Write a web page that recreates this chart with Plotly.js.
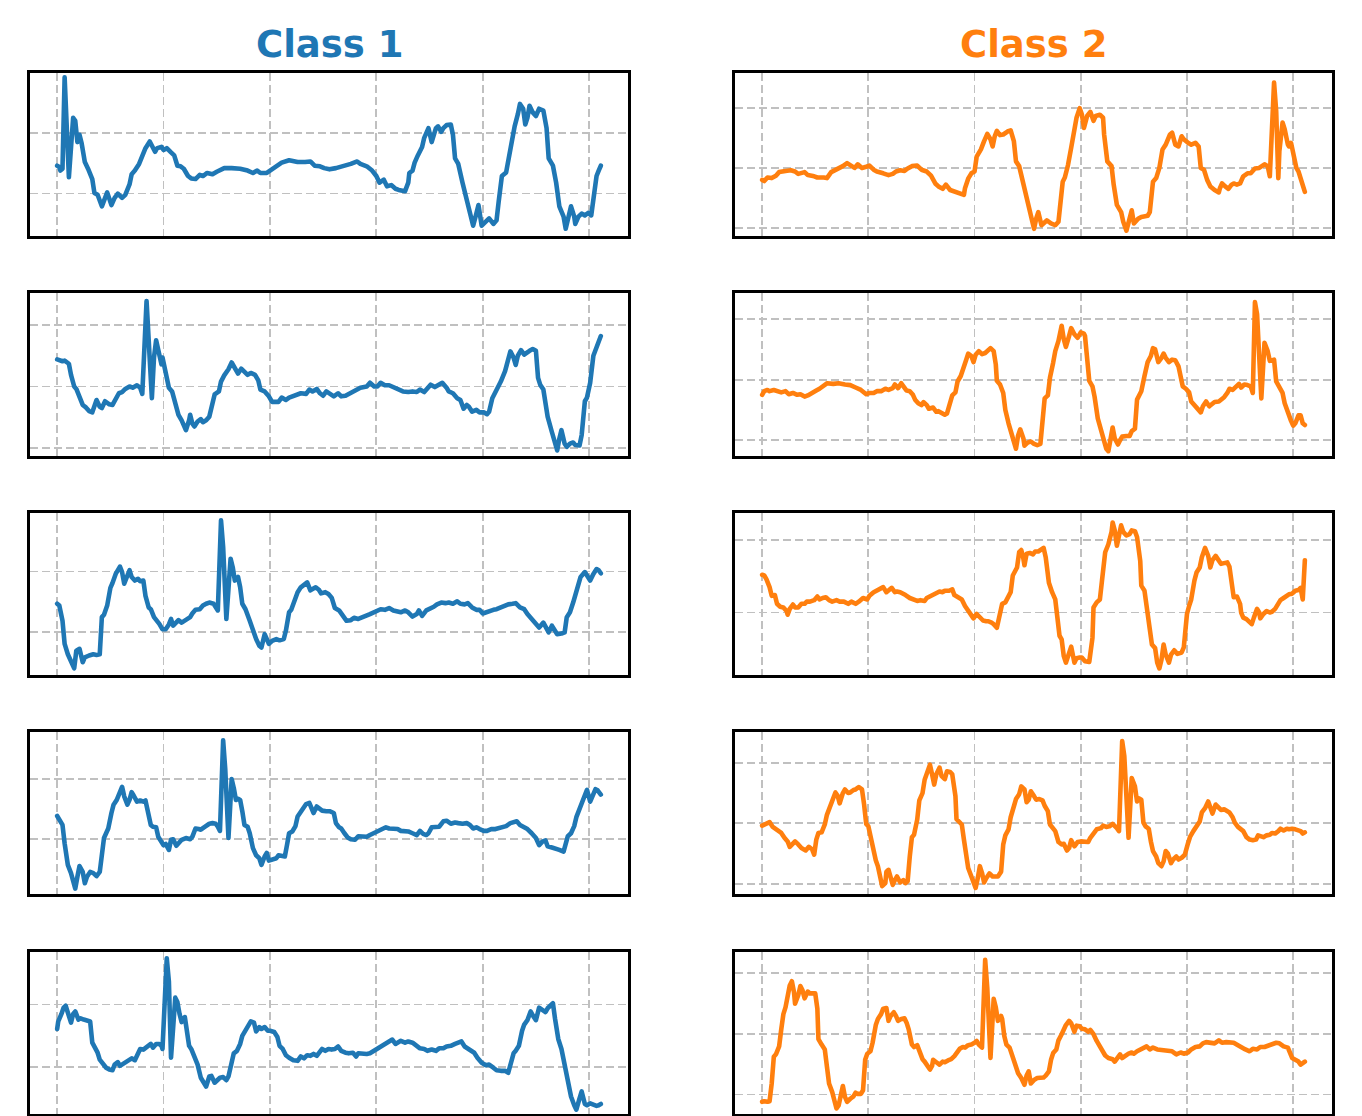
<!DOCTYPE html>
<html>
<head>
<meta charset="utf-8">
<script src="https://cdn.plot.ly/plotly-3.0.1.min.js"></script>
<style>
  html, body { margin: 0; padding: 0; background: #ffffff; }
  #chart { width: 1362px; height: 1116px; }
  .js-line { stroke-linejoin: round; stroke-linecap: round; }
</style>
</head>
<body>
<div id="chart"></div>
<script>
// Five example sequences per class, as [sample index, value] pairs.
const class1_seq1 = [[0,0.46],[2,0.44],[3,0.38],[5,0.41],[7,1.92],[11,0.27],[15,1.25],[17,1.20],[19,0.85],[21,0.97],[23,0.83],[26,0.52],[29,0.41],[33,0.24],[35,0.01],[38,-0.02],[42,-0.21],[44,-0.13],[47,0.02],[51,-0.19],[54,-0.07],[57,0.00],[61,-0.07],[64,-0.02],[68,0.15],[70,0.32],[73,0.38],[77,0.49],[80,0.63],[83,0.75],[87,0.86],[89,0.80],[92,0.69],[94,0.75],[98,0.77],[100,0.72],[103,0.75],[107,0.68],[110,0.63],[113,0.46],[116,0.45],[119,0.41],[123,0.29],[126,0.25],[130,0.24],[134,0.31],[137,0.29],[141,0.34],[146,0.32],[150,0.36],[157,0.42],[164,0.42],[172,0.41],[179,0.38],[184,0.34],[188,0.38],[191,0.34],[197,0.34],[200,0.38],[206,0.44],[211,0.51],[218,0.55],[226,0.52],[233,0.52],[238,0.53],[242,0.46],[247,0.45],[251,0.42],[256,0.40],[262,0.42],[269,0.45],[276,0.49],[282,0.53],[285,0.49],[291,0.45],[296,0.38],[300,0.29],[303,0.18],[307,0.23],[310,0.12],[314,0.14],[318,0.08],[321,0.06],[327,0.04],[330,0.18],[331,0.34],[334,0.38],[336,0.51],[339,0.63],[343,0.77],[345,0.92],[349,1.08],[352,0.85],[356,1.08],[358,1.11],[361,1.02],[363,1.08],[366,1.13],[370,1.14],[372,0.97],[374,0.58],[377,0.49],[381,0.18],[384,-0.05],[386,-0.21],[391,-0.53],[394,-0.33],[396,-0.19],[399,-0.53],[403,-0.47],[406,-0.41],[410,-0.50],[413,-0.44],[415,-0.13],[418,0.29],[422,0.35],[426,0.75],[430,1.11],[433,1.31],[435,1.48],[438,1.40],[440,1.14],[442,1.25],[444,1.45],[447,1.34],[450,1.28],[453,1.40],[457,1.37],[460,1.08],[462,0.58],[466,0.46],[469,0.18],[472,-0.21],[476,-0.38],[478,-0.58],[481,-0.33],[483,-0.21],[486,-0.38],[487,-0.50],[490,-0.38],[493,-0.33],[496,-0.36],[499,-0.32],[502,-0.36],[504,-0.10],[507,0.29],[509,0.38],[511,0.46]];

const class1_seq2 = [[0,1.44],[2,1.42],[5,1.41],[7,1.42],[11,1.37],[13,1.19],[16,1.00],[18,0.96],[21,0.81],[24,0.70],[27,0.66],[30,0.60],[33,0.58],[35,0.67],[37,0.78],[40,0.67],[42,0.65],[45,0.76],[49,0.71],[52,0.70],[55,0.78],[58,0.89],[61,0.91],[64,0.96],[68,1.00],[71,0.98],[75,1.02],[78,0.98],[80,0.88],[84,2.39],[89,0.81],[91,1.47],[93,1.75],[96,1.47],[98,1.36],[99,1.47],[102,1.25],[105,0.98],[108,0.92],[111,0.76],[114,0.54],[117,0.45],[119,0.37],[121,0.29],[124,0.45],[125,0.54],[127,0.40],[129,0.35],[132,0.43],[135,0.47],[137,0.42],[140,0.45],[143,0.51],[146,0.78],[148,0.87],[152,0.92],[154,1.08],[157,1.18],[161,1.28],[164,1.39],[167,1.28],[170,1.21],[173,1.29],[176,1.25],[179,1.19],[182,1.22],[186,1.19],[189,1.10],[191,0.95],[195,0.92],[199,0.84],[202,0.75],[208,0.75],[211,0.82],[215,0.78],[218,0.82],[222,0.84],[226,0.87],[229,0.89],[234,0.88],[237,0.95],[240,0.92],[244,0.96],[247,0.89],[250,0.85],[253,0.92],[256,0.89],[260,0.84],[264,0.89],[267,0.84],[271,0.85],[274,0.88],[278,0.92],[282,0.95],[285,0.98],[291,1.00],[294,1.06],[298,1.00],[301,1.00],[304,1.06],[308,1.02],[312,1.02],[316,0.99],[320,0.95],[325,0.92],[330,0.91],[334,0.92],[338,0.91],[341,0.95],[345,0.91],[349,0.98],[351,1.03],[355,0.99],[359,1.03],[362,1.06],[366,0.98],[368,0.92],[372,0.89],[376,0.81],[379,0.78],[382,0.64],[385,0.70],[387,0.67],[390,0.59],[394,0.62],[397,0.58],[401,0.58],[404,0.55],[406,0.59],[409,0.81],[412,0.92],[414,0.95],[417,1.08],[421,1.25],[424,1.41],[426,1.57],[429,1.47],[431,1.35],[433,1.50],[436,1.59],[439,1.52],[442,1.57],[444,1.58],[447,1.61],[450,1.58],[452,1.14],[454,1.03],[457,0.95],[459,0.76],[461,0.51],[465,0.26],[468,0.04],[470,-0.04],[472,0.15],[474,0.29],[477,0.07],[479,0.02],[482,0.07],[485,0.09],[487,0.05],[491,0.04],[493,0.21],[496,0.76],[498,0.82],[501,1.06],[504,1.50],[507,1.63],[509,1.75],[511,1.82]];

const class1_seq3 = [[0,0.47],[2,0.44],[5,0.19],[7,-0.19],[10,-0.36],[13,-0.49],[16,-0.59],[18,-0.30],[21,-0.27],[24,-0.49],[26,-0.41],[30,-0.38],[34,-0.36],[37,-0.37],[40,-0.36],[42,0.25],[44,0.29],[47,0.44],[50,0.73],[52,0.81],[55,0.96],[59,1.08],[61,0.99],[63,0.80],[66,0.91],[68,1.02],[70,0.91],[73,0.85],[76,0.88],[78,0.84],[81,0.85],[83,0.60],[86,0.41],[88,0.38],[91,0.25],[94,0.19],[96,0.14],[99,0.05],[102,0.05],[105,0.13],[107,0.22],[109,0.11],[112,0.15],[114,0.20],[117,0.16],[121,0.20],[125,0.25],[127,0.31],[130,0.37],[134,0.38],[137,0.44],[140,0.47],[143,0.49],[147,0.47],[149,0.41],[151,0.36],[154,1.84],[156,1.40],[159,0.22],[161,0.80],[163,1.21],[165,1.07],[167,0.85],[170,0.91],[172,0.74],[174,0.47],[177,0.38],[181,0.19],[184,0.03],[187,-0.11],[190,-0.22],[192,-0.25],[195,-0.03],[197,-0.11],[199,-0.19],[202,-0.14],[206,-0.11],[209,-0.13],[213,-0.11],[215,0.03],[218,0.33],[220,0.37],[223,0.52],[226,0.66],[229,0.74],[232,0.79],[235,0.82],[238,0.69],[240,0.71],[243,0.74],[246,0.70],[248,0.64],[252,0.66],[255,0.63],[258,0.57],[261,0.40],[265,0.36],[268,0.29],[272,0.19],[276,0.20],[279,0.24],[283,0.22],[286,0.25],[290,0.27],[294,0.30],[297,0.33],[301,0.36],[304,0.38],[308,0.37],[312,0.40],[316,0.36],[320,0.35],[323,0.33],[327,0.36],[330,0.33],[334,0.26],[338,0.30],[340,0.36],[343,0.27],[347,0.36],[350,0.38],[354,0.42],[357,0.46],[361,0.49],[365,0.48],[368,0.49],[372,0.47],[376,0.51],[379,0.47],[383,0.46],[386,0.48],[390,0.41],[394,0.37],[397,0.37],[400,0.31],[403,0.33],[406,0.36],[410,0.37],[413,0.38],[417,0.41],[421,0.44],[424,0.46],[428,0.47],[431,0.48],[435,0.41],[439,0.38],[442,0.30],[446,0.22],[450,0.16],[453,0.08],[457,0.16],[460,0.05],[462,0.00],[465,0.11],[468,0.02],[470,-0.03],[474,-0.02],[477,0.00],[479,0.25],[482,0.33],[485,0.49],[488,0.69],[492,0.91],[496,0.99],[498,0.93],[501,0.85],[504,0.96],[507,1.04],[509,1.02],[511,0.97]];

const class1_seq4 = [[0,0.38],[2,0.31],[5,0.23],[7,-0.08],[10,-0.44],[13,-0.58],[15,-0.72],[17,-0.84],[19,-0.64],[21,-0.46],[24,-0.56],[26,-0.75],[28,-0.64],[31,-0.56],[34,-0.58],[37,-0.63],[40,-0.56],[42,-0.30],[44,0.01],[46,0.09],[48,0.17],[51,0.43],[53,0.57],[56,0.65],[59,0.79],[61,0.87],[63,0.71],[66,0.57],[68,0.65],[70,0.78],[72,0.72],[75,0.62],[78,0.64],[81,0.62],[83,0.64],[85,0.43],[88,0.23],[90,0.20],[93,0.19],[95,0.03],[98,-0.08],[100,-0.11],[102,-0.09],[105,-0.19],[107,-0.02],[109,-0.01],[112,-0.12],[114,-0.07],[117,-0.02],[121,0.01],[125,-0.01],[127,0.03],[130,0.17],[133,0.16],[135,0.15],[138,0.19],[141,0.23],[143,0.25],[146,0.26],[149,0.25],[151,0.20],[153,0.13],[156,1.65],[158,1.16],[161,0.01],[163,0.71],[164,1.00],[166,0.85],[168,0.65],[170,0.67],[172,0.65],[174,0.46],[176,0.23],[179,0.20],[181,0.09],[184,-0.16],[187,-0.28],[190,-0.33],[192,-0.44],[195,-0.30],[197,-0.24],[199,-0.37],[202,-0.36],[206,-0.33],[208,-0.28],[211,-0.29],[214,-0.30],[216,-0.11],[218,0.09],[221,0.12],[224,0.21],[226,0.37],[229,0.46],[232,0.53],[234,0.58],[237,0.60],[239,0.51],[241,0.43],[244,0.54],[246,0.51],[249,0.47],[253,0.46],[256,0.46],[260,0.43],[262,0.26],[265,0.19],[267,0.17],[270,0.09],[273,0.02],[276,-0.01],[280,-0.02],[283,0.04],[287,0.04],[291,0.03],[294,0.06],[298,0.10],[301,0.12],[305,0.16],[309,0.19],[312,0.17],[316,0.16],[320,0.16],[323,0.13],[327,0.13],[330,0.12],[334,0.09],[338,0.06],[341,0.13],[344,0.08],[347,0.06],[349,0.09],[352,0.19],[356,0.19],[359,0.20],[363,0.29],[366,0.30],[370,0.25],[374,0.27],[377,0.26],[381,0.25],[385,0.26],[388,0.23],[391,0.17],[394,0.19],[397,0.16],[401,0.13],[404,0.13],[408,0.16],[412,0.16],[415,0.17],[418,0.19],[422,0.21],[426,0.26],[430,0.27],[432,0.29],[435,0.23],[439,0.19],[442,0.16],[446,0.09],[450,0.01],[453,-0.11],[456,-0.05],[459,-0.03],[461,-0.13],[465,-0.15],[468,-0.16],[472,-0.19],[476,-0.22],[478,-0.11],[480,0.04],[483,0.09],[486,0.21],[488,0.36],[492,0.53],[496,0.71],[498,0.82],[501,0.62],[503,0.71],[506,0.83],[508,0.81],[511,0.74]];

const class1_seq5 = [[0,0.61],[1,0.73],[4,0.85],[6,0.95],[8,0.98],[10,0.88],[13,0.71],[15,0.85],[17,0.89],[20,0.76],[22,0.78],[25,0.76],[29,0.75],[31,0.73],[33,0.39],[35,0.33],[38,0.23],[40,0.12],[43,0.04],[46,-0.01],[49,-0.04],[52,-0.05],[54,0.04],[57,0.08],[59,0.02],[61,0.04],[64,0.08],[67,0.11],[70,0.14],[73,0.11],[76,0.21],[78,0.29],[81,0.28],[84,0.31],[88,0.37],[90,0.31],[93,0.37],[96,0.37],[98,0.34],[99,0.29],[103,1.74],[105,1.37],[107,0.15],[111,1.11],[113,1.04],[115,0.85],[117,0.72],[120,0.80],[122,0.58],[124,0.34],[126,0.29],[129,0.18],[132,0.04],[135,-0.17],[137,-0.23],[140,-0.31],[143,-0.15],[145,-0.14],[148,-0.25],[151,-0.19],[153,-0.17],[156,-0.16],[159,-0.21],[161,-0.15],[164,0.07],[166,0.22],[169,0.26],[172,0.37],[174,0.50],[177,0.58],[180,0.65],[182,0.73],[185,0.71],[187,0.57],[190,0.64],[192,0.61],[195,0.64],[198,0.58],[200,0.58],[204,0.56],[207,0.48],[209,0.34],[212,0.29],[215,0.19],[218,0.15],[222,0.11],[226,0.10],[229,0.17],[232,0.14],[235,0.19],[238,0.18],[241,0.21],[244,0.18],[247,0.24],[249,0.29],[252,0.26],[255,0.29],[258,0.28],[261,0.29],[264,0.33],[267,0.26],[271,0.23],[274,0.22],[278,0.23],[281,0.17],[283,0.22],[287,0.21],[291,0.21],[294,0.22],[298,0.26],[301,0.30],[305,0.34],[309,0.37],[312,0.42],[315,0.44],[318,0.37],[320,0.39],[323,0.42],[327,0.39],[330,0.41],[334,0.39],[338,0.34],[341,0.30],[345,0.29],[348,0.26],[352,0.28],[356,0.26],[359,0.30],[363,0.30],[366,0.33],[370,0.34],[374,0.37],[377,0.39],[380,0.41],[383,0.33],[385,0.31],[388,0.29],[392,0.23],[395,0.15],[399,0.07],[403,0.03],[406,0.04],[410,-0.01],[413,-0.05],[417,-0.06],[421,-0.06],[424,-0.09],[426,0.04],[429,0.22],[431,0.26],[434,0.34],[437,0.58],[439,0.68],[442,0.75],[445,0.89],[448,0.80],[450,0.75],[453,0.95],[456,0.92],[459,0.88],[461,0.94],[464,0.99],[466,1.02],[468,0.77],[471,0.45],[474,0.29],[477,0.02],[480,-0.25],[483,-0.47],[486,-0.61],[488,-0.68],[491,-0.50],[493,-0.39],[496,-0.59],[498,-0.61],[501,-0.58],[504,-0.61],[507,-0.62],[509,-0.61],[511,-0.59]];

const class2_seq1 = [[0,0.80],[2,0.78],[5,0.84],[9,0.83],[13,0.87],[16,0.93],[22,0.95],[27,0.96],[31,0.94],[34,0.90],[40,0.93],[43,0.88],[49,0.86],[52,0.84],[58,0.84],[61,0.83],[65,0.93],[70,0.97],[76,1.03],[80,1.08],[83,1.05],[87,1.00],[90,1.06],[94,1.00],[98,1.02],[101,1.04],[105,0.97],[108,0.94],[114,0.91],[119,0.88],[123,0.90],[126,0.94],[130,0.96],[134,0.95],[137,0.99],[141,1.03],[146,1.04],[150,0.97],[155,0.94],[159,0.87],[163,0.74],[166,0.69],[170,0.65],[173,0.72],[177,0.63],[182,0.60],[186,0.59],[190,0.55],[191,0.66],[194,0.82],[197,0.91],[200,0.94],[202,1.19],[206,1.31],[209,1.45],[212,1.57],[215,1.48],[217,1.36],[219,1.53],[221,1.62],[224,1.55],[227,1.56],[231,1.61],[234,1.63],[237,1.45],[239,1.11],[242,1.03],[244,0.88],[247,0.60],[250,0.35],[253,0.15],[256,-0.02],[258,0.15],[260,0.26],[263,0.04],[265,0.07],[268,0.12],[272,0.07],[276,0.04],[279,0.10],[281,0.38],[283,0.77],[285,0.84],[288,1.05],[291,1.34],[294,1.63],[296,1.84],[299,2.00],[301,1.90],[303,1.67],[306,1.87],[309,1.94],[312,1.79],[314,1.87],[318,1.89],[321,1.84],[322,1.56],[325,1.11],[329,1.03],[331,0.72],[334,0.38],[338,0.26],[340,0.10],[343,-0.05],[346,0.21],[348,0.29],[350,0.07],[354,0.15],[357,0.18],[363,0.20],[365,0.26],[368,0.77],[371,0.83],[374,1.00],[377,1.31],[380,1.39],[384,1.56],[386,1.59],[389,1.39],[392,1.36],[395,1.53],[397,1.48],[401,1.42],[404,1.39],[408,1.42],[411,1.36],[413,1.00],[416,0.97],[419,0.80],[422,0.69],[426,0.63],[430,0.59],[431,0.66],[433,0.74],[436,0.69],[439,0.65],[442,0.72],[444,0.74],[447,0.72],[450,0.74],[453,0.86],[457,0.91],[460,0.91],[464,0.99],[468,1.00],[471,1.03],[473,1.06],[476,1.03],[478,0.86],[482,2.43],[484,1.95],[486,0.83],[487,1.28],[490,1.76],[492,1.65],[495,1.39],[496,1.36],[498,1.42],[501,1.11],[503,1.00],[505,0.94],[508,0.77],[511,0.60]];

const class2_seq2 = [[0,0.75],[2,0.81],[5,0.83],[7,0.81],[11,0.83],[14,0.81],[18,0.79],[22,0.81],[25,0.76],[29,0.78],[33,0.75],[36,0.76],[40,0.72],[43,0.74],[47,0.79],[51,0.82],[54,0.85],[58,0.91],[61,0.94],[67,0.93],[72,0.94],[78,0.92],[83,0.91],[88,0.87],[93,0.83],[98,0.76],[101,0.78],[105,0.78],[108,0.81],[112,0.81],[116,0.85],[119,0.83],[123,0.86],[125,0.92],[128,0.86],[131,0.94],[134,0.87],[136,0.82],[139,0.81],[142,0.75],[144,0.67],[147,0.61],[150,0.58],[152,0.63],[155,0.58],[157,0.52],[161,0.54],[164,0.47],[166,0.48],[169,0.44],[172,0.42],[174,0.44],[176,0.58],[179,0.74],[182,0.79],[184,0.97],[187,1.06],[190,1.19],[192,1.32],[194,1.43],[197,1.39],[199,1.29],[201,1.41],[204,1.47],[207,1.42],[210,1.44],[212,1.47],[215,1.52],[218,1.47],[220,1.25],[221,0.98],[224,0.92],[227,0.78],[229,0.50],[232,0.28],[235,0.08],[238,-0.11],[239,-0.14],[241,0.08],[243,0.18],[246,0.03],[247,-0.09],[250,-0.04],[253,-0.02],[256,-0.06],[259,-0.08],[262,-0.06],[264,0.36],[266,0.69],[269,0.74],[271,1.03],[274,1.28],[276,1.47],[279,1.64],[282,1.89],[284,1.67],[286,1.54],[289,1.72],[291,1.85],[294,1.75],[297,1.69],[300,1.78],[303,1.76],[304,1.72],[306,1.36],[308,0.98],[311,0.89],[313,0.72],[316,0.36],[319,0.19],[321,0.03],[324,-0.14],[326,-0.18],[329,0.08],[330,0.21],[332,0.03],[335,-0.07],[337,0.00],[339,0.06],[343,0.07],[346,0.07],[348,0.15],[351,0.19],[353,0.67],[355,0.75],[357,0.81],[360,1.06],[363,1.29],[366,1.39],[368,1.52],[370,1.50],[373,1.29],[376,1.36],[378,1.43],[380,1.36],[383,1.29],[386,1.33],[389,1.32],[392,1.22],[394,1.08],[396,0.89],[399,0.85],[402,0.79],[404,0.64],[407,0.57],[410,0.53],[413,0.46],[415,0.56],[418,0.64],[421,0.56],[424,0.61],[426,0.63],[430,0.64],[432,0.67],[435,0.71],[438,0.78],[440,0.85],[443,0.83],[446,0.89],[449,0.93],[451,0.87],[454,0.92],[457,0.91],[460,0.89],[462,0.78],[464,2.28],[466,2.08],[470,0.69],[473,1.61],[476,1.47],[478,1.31],[480,1.33],[482,1.33],[484,0.97],[487,0.87],[490,0.78],[492,0.61],[495,0.44],[498,0.32],[500,0.24],[502,0.28],[505,0.41],[507,0.41],[509,0.28],[511,0.25]];

const class2_seq3 = [[0,0.52],[2,0.51],[4,0.46],[7,0.35],[9,0.23],[12,0.24],[14,0.12],[17,0.08],[20,0.07],[23,0.02],[24,-0.03],[26,0.05],[29,0.11],[31,0.07],[34,0.07],[37,0.12],[40,0.12],[42,0.15],[45,0.15],[49,0.17],[52,0.22],[54,0.18],[57,0.20],[60,0.21],[63,0.17],[66,0.15],[70,0.17],[73,0.15],[77,0.15],[81,0.12],[84,0.15],[88,0.12],[91,0.15],[95,0.20],[99,0.18],[101,0.23],[105,0.28],[108,0.30],[112,0.34],[114,0.35],[117,0.28],[120,0.31],[122,0.34],[125,0.28],[127,0.29],[130,0.28],[133,0.26],[135,0.24],[139,0.20],[143,0.18],[146,0.16],[149,0.17],[153,0.16],[155,0.20],[158,0.22],[161,0.24],[164,0.26],[167,0.29],[170,0.28],[172,0.30],[176,0.30],[179,0.32],[181,0.24],[184,0.21],[188,0.18],[191,0.09],[194,0.02],[197,-0.05],[199,-0.08],[202,-0.02],[205,-0.06],[208,-0.11],[211,-0.12],[213,-0.12],[216,-0.14],[218,-0.16],[221,-0.21],[224,-0.02],[226,0.12],[229,0.14],[231,0.20],[234,0.28],[236,0.51],[238,0.58],[240,0.62],[242,0.83],[244,0.86],[246,0.74],[247,0.65],[249,0.81],[252,0.82],[255,0.80],[257,0.84],[260,0.84],[263,0.88],[265,0.89],[267,0.76],[270,0.41],[273,0.28],[276,0.18],[278,-0.07],[280,-0.32],[282,-0.37],[284,-0.60],[286,-0.69],[289,-0.55],[291,-0.47],[294,-0.69],[296,-0.63],[299,-0.62],[301,-0.62],[304,-0.67],[308,-0.68],[311,-0.35],[312,0.07],[315,0.14],[318,0.18],[320,0.44],[323,0.83],[326,0.94],[329,1.11],[330,1.24],[332,1.13],[334,0.92],[336,1.06],[338,1.20],[340,1.11],[343,1.06],[346,1.08],[348,1.13],[351,1.12],[353,1.04],[356,0.71],[357,0.37],[360,0.30],[362,0.12],[365,-0.23],[367,-0.44],[370,-0.49],[372,-0.69],[374,-0.77],[376,-0.65],[378,-0.44],[380,-0.58],[383,-0.69],[385,-0.58],[388,-0.52],[391,-0.57],[395,-0.55],[397,-0.48],[400,-0.02],[402,0.09],[404,0.18],[407,0.44],[409,0.55],[412,0.62],[414,0.76],[417,0.89],[420,0.78],[422,0.62],[424,0.72],[427,0.78],[430,0.71],[432,0.67],[435,0.68],[438,0.69],[440,0.63],[442,0.41],[444,0.21],[447,0.22],[450,0.12],[451,0.00],[453,-0.07],[456,-0.09],[459,-0.14],[461,-0.16],[463,-0.07],[466,0.05],[468,0.00],[469,-0.08],[472,-0.02],[475,0.02],[478,0.00],[480,0.01],[483,0.05],[486,0.12],[488,0.17],[491,0.20],[494,0.23],[496,0.25],[499,0.26],[502,0.30],[505,0.31],[507,0.34],[509,0.18],[510,0.71],[511,0.72]];

const class2_seq4 = [[0,0.96],[2,0.98],[5,1.01],[7,1.02],[10,0.94],[13,0.90],[16,0.87],[18,0.84],[21,0.76],[24,0.70],[26,0.61],[29,0.65],[31,0.70],[34,0.65],[37,0.59],[41,0.55],[44,0.61],[47,0.57],[49,0.48],[51,0.73],[53,0.84],[56,0.85],[59,0.98],[61,1.14],[63,1.23],[66,1.36],[69,1.51],[71,1.46],[73,1.33],[76,1.50],[78,1.56],[81,1.50],[83,1.51],[86,1.55],[88,1.56],[91,1.60],[94,1.56],[96,1.31],[98,0.99],[100,0.95],[102,0.78],[105,0.59],[107,0.39],[109,0.29],[111,0.12],[113,-0.04],[116,0.01],[117,0.20],[119,0.23],[121,0.07],[123,-0.02],[125,0.06],[127,0.12],[130,0.02],[133,0.06],[135,0.01],[137,0.04],[139,0.45],[141,0.77],[143,0.81],[146,1.06],[148,1.38],[151,1.50],[153,1.72],[156,1.90],[158,1.97],[160,1.81],[162,1.64],[164,1.81],[167,1.92],[169,1.78],[172,1.73],[174,1.86],[177,1.85],[179,1.81],[182,1.45],[183,1.07],[186,1.01],[188,0.98],[190,0.73],[192,0.43],[194,0.26],[197,0.12],[199,0.00],[201,-0.07],[203,0.09],[205,0.29],[207,0.18],[209,0.02],[211,0.09],[214,0.17],[217,0.12],[220,0.11],[222,0.12],[225,0.20],[227,0.65],[229,0.80],[232,0.90],[234,1.10],[237,1.25],[239,1.40],[242,1.48],[244,1.61],[247,1.56],[249,1.35],[251,1.39],[253,1.53],[256,1.45],[258,1.39],[261,1.40],[264,1.38],[266,1.29],[269,1.20],[271,0.98],[274,0.92],[276,0.87],[279,0.69],[282,0.65],[284,0.66],[287,0.55],[289,0.59],[291,0.72],[294,0.62],[297,0.69],[300,0.70],[303,0.70],[307,0.69],[309,0.76],[312,0.84],[315,0.90],[319,0.92],[321,0.96],[324,0.94],[327,0.95],[330,0.99],[332,0.96],[334,0.92],[336,0.87],[339,2.36],[341,2.11],[345,0.76],[348,1.75],[351,1.61],[353,1.36],[355,1.41],[357,1.39],[359,1.01],[361,0.95],[364,0.91],[366,0.70],[368,0.54],[371,0.45],[373,0.34],[376,0.29],[378,0.37],[380,0.54],[382,0.50],[385,0.34],[387,0.40],[390,0.45],[392,0.40],[395,0.43],[398,0.48],[401,0.67],[403,0.78],[406,0.87],[409,0.95],[412,1.03],[414,1.18],[417,1.25],[420,1.36],[422,1.25],[424,1.16],[427,1.31],[430,1.25],[432,1.22],[435,1.23],[438,1.20],[440,1.18],[443,1.10],[445,1.01],[448,0.94],[450,0.91],[453,0.87],[456,0.77],[459,0.73],[462,0.72],[465,0.73],[467,0.80],[470,0.78],[472,0.77],[475,0.80],[478,0.81],[480,0.84],[483,0.83],[486,0.87],[488,0.91],[491,0.88],[494,0.91],[496,0.90],[499,0.91],[502,0.90],[505,0.88],[507,0.87],[509,0.83],[511,0.85]];

const class2_seq5 = [[0,-0.12],[2,-0.11],[5,-0.12],[7,-0.11],[9,0.18],[11,0.62],[13,0.66],[16,0.79],[18,1.07],[20,1.32],[22,1.43],[24,1.66],[26,1.79],[28,1.86],[30,1.68],[31,1.49],[34,1.63],[36,1.78],[38,1.71],[40,1.58],[43,1.69],[45,1.66],[48,1.67],[50,1.66],[52,1.41],[53,0.91],[56,0.82],[59,0.74],[61,0.46],[63,0.18],[66,0.04],[68,-0.09],[70,-0.23],[72,-0.18],[74,0.02],[76,0.14],[78,-0.04],[80,-0.12],[83,-0.07],[86,-0.03],[88,0.03],[90,0.01],[93,0.01],[95,0.07],[97,0.57],[99,0.67],[102,0.71],[104,0.85],[107,1.14],[109,1.24],[112,1.32],[114,1.41],[117,1.42],[119,1.21],[121,1.29],[124,1.35],[126,1.29],[128,1.21],[131,1.24],[134,1.25],[136,1.18],[138,1.07],[141,0.82],[143,0.78],[146,0.81],[148,0.71],[151,0.58],[153,0.54],[155,0.49],[158,0.41],[160,0.47],[161,0.57],[164,0.53],[167,0.49],[170,0.54],[172,0.53],[175,0.56],[178,0.58],[181,0.63],[183,0.67],[186,0.75],[189,0.78],[191,0.77],[194,0.81],[197,0.82],[200,0.85],[202,0.88],[204,0.82],[207,0.77],[210,2.21],[212,1.74],[215,0.60],[218,1.57],[220,1.43],[222,1.21],[225,1.29],[226,1.24],[228,0.96],[230,0.82],[233,0.77],[236,0.63],[238,0.49],[241,0.35],[244,0.27],[247,0.16],[249,0.31],[251,0.38],[253,0.18],[256,0.24],[259,0.27],[262,0.28],[265,0.28],[267,0.31],[270,0.38],[272,0.57],[274,0.68],[277,0.74],[279,0.89],[282,0.99],[284,1.07],[286,1.14],[289,1.21],[291,1.17],[294,1.03],[296,1.13],[299,1.12],[301,1.08],[304,1.07],[307,1.03],[309,1.06],[312,0.99],[315,0.88],[318,0.79],[320,0.74],[323,0.64],[326,0.60],[330,0.58],[332,0.54],[335,0.60],[337,0.66],[339,0.60],[342,0.64],[345,0.67],[348,0.69],[350,0.67],[353,0.71],[356,0.74],[359,0.75],[362,0.79],[365,0.74],[368,0.77],[372,0.74],[376,0.73],[379,0.73],[383,0.71],[386,0.71],[390,0.66],[394,0.69],[397,0.67],[401,0.69],[404,0.74],[408,0.78],[412,0.79],[415,0.84],[418,0.86],[422,0.85],[426,0.84],[430,0.89],[433,0.85],[437,0.86],[440,0.86],[444,0.85],[448,0.81],[451,0.77],[455,0.74],[459,0.71],[462,0.75],[466,0.74],[469,0.78],[473,0.78],[477,0.81],[480,0.84],[484,0.85],[487,0.84],[491,0.79],[495,0.77],[497,0.68],[499,0.60],[502,0.57],[505,0.54],[507,0.49],[510,0.54],[511,0.54]];

const classNames = ['Class 1', 'Class 2'];
const classSeqs = [
  [class1_seq1, class1_seq2, class1_seq3, class1_seq4, class1_seq5],
  [class2_seq1, class2_seq2, class2_seq3, class2_seq4, class2_seq5]
];

// ---- layout settings ----
const W = 1362, H = 1116;
const classColors = ['#1f77b4', '#ff7f0e'];
const colEdges = [[30, 628], [735, 1332]];               // px, left/right of each column
const rowEdges = [[73, 236], [293, 456], [513, 675], [732, 894], [952, 1114]]; // px, top/bottom
// visible value window of each panel, [row][col]
const yWindows = [
  [[-0.70, 1.99], [-0.14, 2.59]],
  [[-0.13, 2.52], [-0.26, 2.43]],
  [[-0.70, 1.96], [-0.86, 1.37]],
  [[-0.93, 1.79], [-0.17, 2.51]],
  [[-0.75, 1.84], [-0.32, 2.34]]
];

const traces = [];
const layout = {
  width: W, height: H,
  margin: {l: 0, r: 0, t: 0, b: 0},
  paper_bgcolor: '#ffffff', plot_bgcolor: '#ffffff',
  showlegend: false, hovermode: false,
  annotations: []
};

const axisStyle = {
  showline: true, mirror: true, linecolor: '#000000', linewidth: 2.8,
  showgrid: true, gridcolor: '#c0c0c0', gridwidth: 1.8, griddash: '8px,4px',
  zeroline: false, ticks: '', showticklabels: false, fixedrange: true
};

let k = 0;
for (let r = 0; r < 5; r++) {
  for (let c = 0; c < 2; c++) {
    k++;
    const seq = classSeqs[c][r];
    const t = seq.map(p => p[0]);
    const v = seq.map(p => p[1]);
    const last = t[t.length - 1];
    const sfx = k === 1 ? '' : String(k);
    traces.push({
      type: 'scatter', mode: 'lines', x: t, y: v,
      xaxis: 'x' + sfx, yaxis: 'y' + sfx,
      line: {color: classColors[c], width: 4.6},
      hoverinfo: 'skip'
    });
    layout['xaxis' + sfx] = Object.assign({}, axisStyle, {
      domain: [colEdges[c][0] / W, colEdges[c][1] / W],
      range: [-0.05 * last, 1.05 * last],
      tick0: 0, dtick: 100,
      anchor: 'y' + sfx
    });
    layout['yaxis' + sfx] = Object.assign({}, axisStyle, {
      domain: [1 - rowEdges[r][1] / H, 1 - rowEdges[r][0] / H],
      range: yWindows[r][c],
      tick0: 0, dtick: 1,
      anchor: 'x' + sfx
    });
  }
}

// column titles
for (let c = 0; c < 2; c++) {
  layout.annotations.push({
    text: classNames[c],
    xref: 'paper', yref: 'paper',
    x: (colEdges[c][0] + colEdges[c][1]) / 2 / W,
    y: 1 - 44 / H,
    xanchor: 'center', yanchor: 'middle',
    showarrow: false,
    font: {family: 'DejaVu Sans', size: 37, weight: 'bold', color: classColors[c]}
  });
}

Plotly.newPlot('chart', traces, layout, {staticPlot: true, displayModeBar: false});
</script>
</body>
</html>
